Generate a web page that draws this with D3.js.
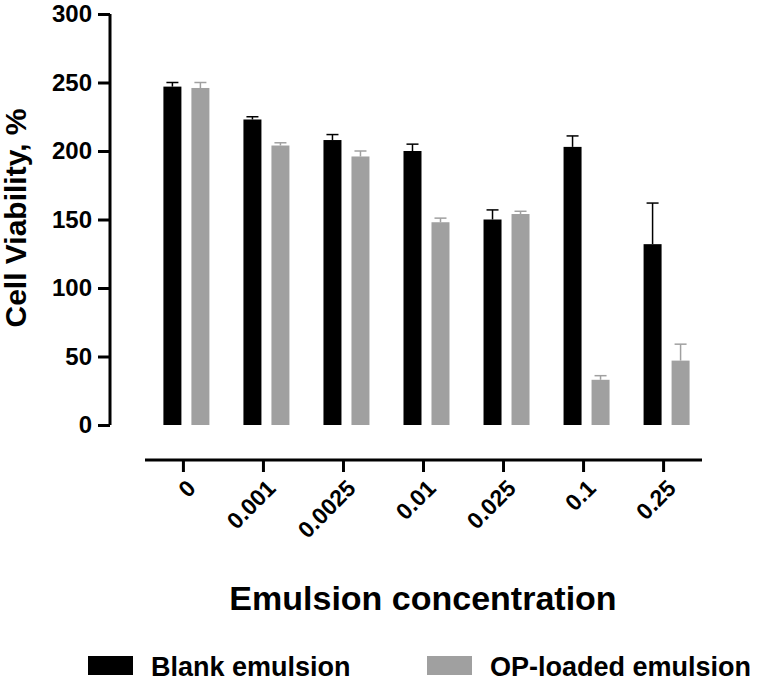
<!DOCTYPE html>
<html><head><meta charset="utf-8">
<script src="https://cdn.jsdelivr.net/npm/d3@7"></script>
<style>body{margin:0;background:#fff}text{font-family:Arial,"Liberation Sans",sans-serif;font-weight:bold}</style>
</head><body><svg id="c" width="781" height="680"></svg>
<script>
var categories = ["0","0.001","0.0025","0.01","0.025","0.1","0.25"];
var blank = [247, 223, 208, 200, 150, 203, 132];
var blankErr = [3, 2, 4, 5, 7, 8, 30];
var loaded = [246, 204, 196, 148, 154, 33, 47];
var loadedErr = [4, 2, 4, 3, 2, 3, 12];
var yTicks = [0, 50, 100, 150, 200, 250, 300];

var svg = d3.select("#c");
var y = d3.scaleLinear().domain([0, 300]).range([425, 14]);
var x = d3.scaleBand().domain(categories).range([145, 702]).paddingInner(0.5).paddingOuter(0.23);

// y axis
var ya = svg.append("g").attr("transform", "translate(110,0)")
    .call(d3.axisLeft(y).tickValues(yTicks).tickSize(12).tickPadding(6));
ya.select(".domain").attr("stroke-width", 3).attr("d", "M0,14V425");
ya.selectAll(".tick line").attr("stroke-width", 3);
ya.selectAll("text").style("font-size", "24px").attr("fill", "#000");

// x axis
var xa = svg.append("g").attr("transform", "translate(0,460)")
    .call(d3.axisBottom(x).tickSize(12).tickPadding(4));
xa.select(".domain").attr("stroke-width", 3).attr("d", "M145,0H702");
xa.selectAll(".tick line").attr("stroke-width", 3);
xa.selectAll("text").style("font-size", "23px").attr("fill", "#000")
    .attr("text-anchor", "end").attr("x", 0).attr("y", 0).attr("dy", "0.35em")
    .attr("transform", "translate(8,24) rotate(-45)");

var bw = 18;
function series(vals, errs, color, off) {
  var g = svg.append("g");
  vals.forEach(function (v, i) {
    var cx = x(categories[i]) + off;
    g.append("rect").attr("x", cx).attr("y", y(v)).attr("width", bw)
      .attr("height", y(0) - y(v)).attr("fill", color);
    g.append("line").attr("x1", cx + bw / 2).attr("x2", cx + bw / 2)
      .attr("y1", y(v)).attr("y2", y(v + errs[i])).attr("stroke", color).attr("stroke-width", 1.5);
    g.append("line").attr("x1", cx + 3).attr("x2", cx + bw - 3)
      .attr("y1", y(v + errs[i])).attr("y2", y(v + errs[i])).attr("stroke", color).attr("stroke-width", 1.5);
  });
}
series(blank, blankErr, "#000", 0);
series(loaded, loadedErr, "#a0a0a0", 28);

svg.append("text").attr("transform", "translate(26,218) rotate(-90)")
  .attr("text-anchor", "middle").style("font-size", "30px").text("Cell Viability, %");
svg.append("text").attr("x", 423).attr("y", 610).attr("text-anchor", "middle")
  .style("font-size", "34px").text("Emulsion concentration");

var legend = [["Blank emulsion", "#000", 88], ["OP-loaded emulsion", "#a0a0a0", 427]];
legend.forEach(function (d) {
  svg.append("rect").attr("x", d[2]).attr("y", 656).attr("width", 45).attr("height", 19).attr("fill", d[1]);
  svg.append("text").attr("x", d[2] + 63).attr("y", 676).style("font-size", "27px").text(d[0]);
});
</script></body></html>
